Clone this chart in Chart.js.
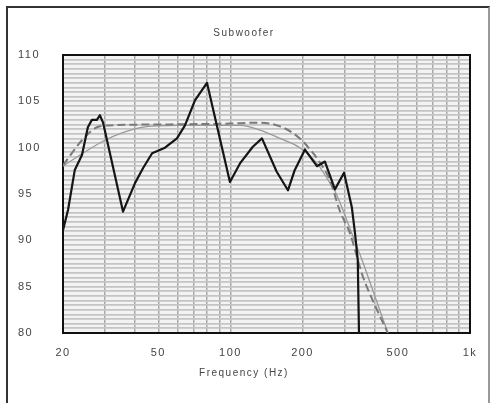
<!DOCTYPE html>
<html>
<head>
<meta charset="utf-8">
<script src="https://cdn.jsdelivr.net/npm/chart.js@4"></script>
<style>
  html, body { margin: 0; padding: 0; background: #fff; }
  #wrap { position: relative; width: 493px; height: 403px; }
  #frame { position: absolute; left: 6px; top: 6px; width: 480px; height: 410px;
           border-left: 2px solid #333; border-top: 2px solid #333; border-right: 2px solid #999;
           pointer-events: none; }
</style>
</head>
<body>
<div id="wrap">
  <canvas id="myChart" width="493" height="403"></canvas>
  <div id="frame"></div>
</div>
<script>
// measured response (black)
const blackFreq = [20, 21, 22.4, 24, 25.4, 26.4, 27.7, 28.5, 29.4, 35.6, 40, 43.2, 47.1, 53.3, 59.8, 64.6, 71.1, 79.8,
                   99.5, 109.6, 124, 135.4, 156, 173.8, 185, 204.7, 229.7, 248, 273, 298, 321, 331, 340, 344];
const blackDb   = [91.1, 93.3, 97.6, 99.2, 102.2, 103, 103, 103.5, 102.7, 93.1, 96.2, 97.8, 99.4, 100, 101, 102.4, 105.1, 107,
                   96.3, 98.3, 100.1, 101, 97.4, 95.4, 97.5, 99.8, 98, 98.5, 95.5, 97.3, 93.6, 90.8, 87.9, 80];

// dashed gray
const dashFreq = [20, 24, 27.7, 31, 50, 100, 130, 161, 195, 215, 232, 260, 286, 315, 357, 393, 454];
const dashDb   = [98.1, 100.8, 102.2, 102.4, 102.5, 102.6, 102.7, 102.3, 101, 99.8, 98.7, 96.5, 93.2, 90.8, 86.1, 83.5, 80];

// solid gray
const grayFreq = [20, 24.2, 29.9, 35.3, 42.7, 60, 110, 133, 161, 195, 230, 260, 272, 325, 354, 393, 450];
const grayDb   = [98, 99.4, 100.8, 101.6, 102.2, 102.4, 102.4, 101.9, 101, 100, 98.3, 96.2, 95.4, 90.4, 87.9, 84.6, 80.3];

// axes
const xGrid = [20, 30, 40, 50, 60, 70, 80, 90, 100, 200, 300, 400, 500, 600, 700, 800, 900, 1000];
const xTickValues = [20, 50, 100, 200, 500, 1000];
const xTickLabels = ['20', '50', '100', '200', '500', '1k'];
const yGrid = [];
for (let v = 80; v <= 110; v += 0.5) yGrid.push(v);
const yTickValues = [80, 85, 90, 95, 100, 105, 110];

function pts(xs, ys) {
  return xs.map((x, i) => ({ x: x, y: ys[i] }));
}

const plotFrame = {
  id: 'plotFrame',
  beforeDraw(chart) {
    const { ctx, chartArea: a } = chart;
    ctx.letterSpacing = '1.5px';
    ctx.save();
    ctx.fillStyle = '#f3f3f3';
    ctx.fillRect(a.left, a.top, a.right - a.left, a.bottom - a.top);
    ctx.restore();
  },
  beforeDatasetsDraw(chart) {
    const { ctx, chartArea: a } = chart;
    ctx.save();
    ctx.strokeStyle = '#111';
    ctx.lineWidth = 2;
    ctx.strokeRect(a.left, a.top, a.right - a.left, a.bottom - a.top);
    ctx.restore();
  }
};

const ctx = document.getElementById('myChart');
const myChart = new Chart(ctx, {
  type: 'line',
  data: {
    datasets: [
      {
        label: 'Measured',
        data: pts(blackFreq, blackDb),
        borderColor: '#151515',
        borderWidth: 2.2,
        tension: 0,
        borderJoinStyle: 'round',
        pointRadius: 0,
        fill: false
      },
      {
        label: 'Dashed',
        data: pts(dashFreq, dashDb),
        borderColor: '#7a7a7a',
        borderWidth: 2,
        borderDash: [8, 4],
        cubicInterpolationMode: 'monotone',
        pointRadius: 0,
        fill: false
      },
      {
        label: 'Gray',
        data: pts(grayFreq, grayDb),
        borderColor: '#9a9a9a',
        borderWidth: 1.3,
        cubicInterpolationMode: 'monotone',
        pointRadius: 0,
        fill: false
      }
    ]
  },
  options: {
    responsive: false,
    animation: false,
    layout: { padding: { left: 18, right: 23, top: 0, bottom: 0 } },
    plugins: {
      legend: { display: false },
      tooltip: { enabled: false },
      title: {
        display: true,
        text: 'Subwoofer',
        color: '#444',
        font: { family: 'Liberation Sans', size: 10, weight: 'normal' },
        padding: { top: 27, bottom: 16 }
      },
      subtitle: {
        display: true,
        position: 'bottom',
        text: 'Frequency (Hz)',
        color: '#444',
        font: { family: 'Liberation Sans', size: 10, weight: 'normal' },
        padding: { top: 0, bottom: 24 }
      }
    },
    scales: {
      x: {
        type: 'logarithmic',
        min: 20,
        max: 1000,
        afterBuildTicks: (scale) => { scale.ticks = xGrid.map(v => ({ value: v })); },
        afterFit: (scale) => { scale.height = 34; },
        grid: { color: '#a9a9a9', lineWidth: 1.5, drawTicks: false },
        border: { display: false },
        ticks: {
          autoSkip: false,
          maxRotation: 0,
          padding: 13,
          color: '#444',
          font: { family: 'Liberation Sans', size: 11 },
          callback: (v) => {
            const i = xTickValues.indexOf(v);
            return i >= 0 ? xTickLabels[i] : '';
          }
        }
      },
      y: {
        min: 80,
        max: 110,
        afterBuildTicks: (scale) => { scale.ticks = yGrid.map(v => ({ value: v })); },
        afterFit: (scale) => { scale.width = 45; },
        grid: { color: '#c4c4c4', lineWidth: 1.8, drawTicks: false },
        border: { display: false },
        ticks: {
          autoSkip: false,
          crossAlign: 'far',
          color: '#444',
          font: { family: 'Liberation Sans', size: 11 },
          callback: (v) => (yTickValues.includes(v) ? String(v) : '')
        }
      }
    }
  },
  plugins: [plotFrame]
});
</script>
</body>
</html>
